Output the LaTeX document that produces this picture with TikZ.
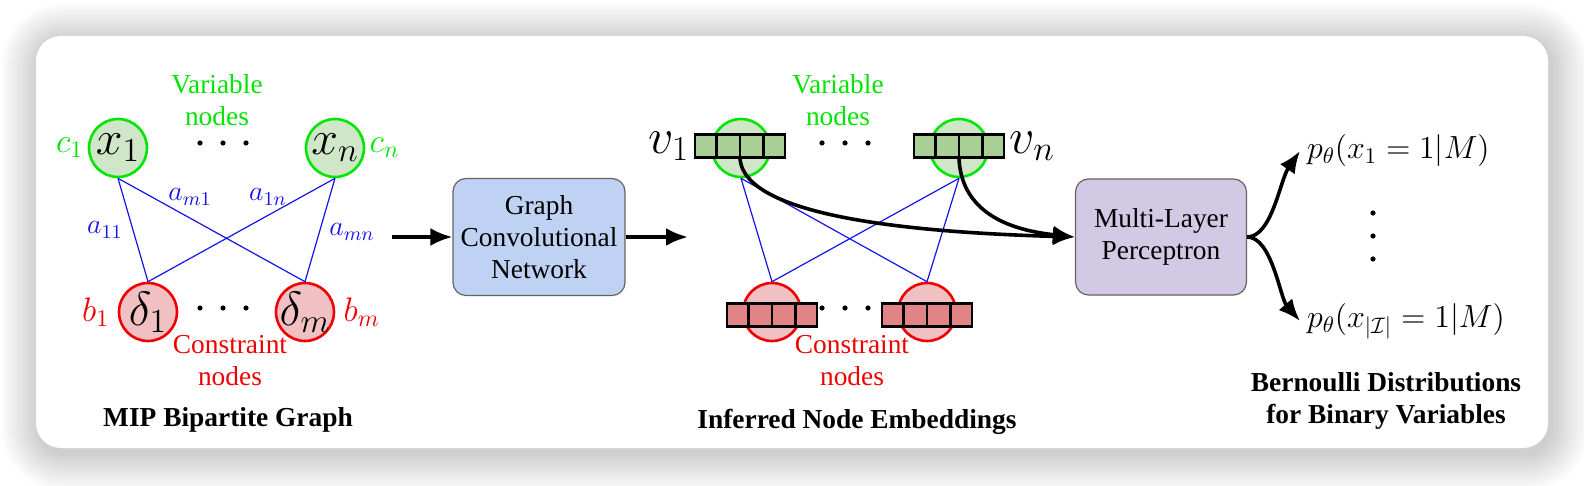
\RequirePackage{fix-cm}
\documentclass[tikz,border=0pt]{standalone}
\usepackage[no-math]{fontspec}
\setmainfont{Liberation Serif}
\usetikzlibrary{arrows.meta,shapes.multipart,positioning}
\definecolor{mygreen}{RGB}{0,230,0}
\definecolor{myred}{RGB}{240,0,0}
\definecolor{myblue}{RGB}{20,20,235}
\definecolor{myvarfill}{RGB}{208,230,201}
\definecolor{myconfill}{RGB}{240,192,194}
\definecolor{myvarcell}{RGB}{169,206,150}
\definecolor{myconcell}{RGB}{224,132,133}
\definecolor{mygcnfill}{RGB}{192,210,243}
\definecolor{mymlpfill}{RGB}{210,201,229}
\definecolor{myborder}{RGB}{100,100,100}

\begin{document}
\begin{tikzpicture}[
  x=0.5pt, y=-0.5pt,
  mytext/.style={font=\fontsize{13.7}{16}\selectfont, align=center},
  mytitle/.style={font=\fontsize{13.7}{16}\selectfont\bfseries, align=center},
  myvar/.style={circle, draw=mygreen, line width=1.3pt, fill=myvarfill, minimum size=29pt, inner sep=0pt},
  mycon/.style={circle, draw=myred, line width=1.3pt, fill=myconfill, minimum size=29pt, inner sep=0pt},
  mybig/.style={font=\fontsize{24}{24}\selectfont, inner sep=0pt},
  mycoef/.style={font=\fontsize{17}{17}\selectfont, inner sep=1pt},
  mylbl/.style={font=\fontsize{14}{14}\selectfont, text=myblue},
  myvec/.style={
    draw,
    line width=1.4pt,
    rectangle split,
    rectangle split horizontal,
    rectangle split parts=4,
    text width=10.2pt,
    inner sep=0pt,
    font=\fontsize{8}{11.2}\selectfont,
    fill=#1
    },
  myedge/.style={draw=myblue, line width=0.6pt},
  mybox/.style={
    draw=myborder,
    line width=0.6pt,
    rounded corners=6.5pt,
    minimum width=86pt,
    minimum height=58.5pt,
    fill=#1,
    mytext
  },
  myarrow/.style={line width=1.8pt, -{Latex[length=11pt,width=9pt]}}
]
\useasboundingbox (0,0) rectangle (1584,486);

% soft shadow and frame
\foreach \s in {1,...,24}
  \fill[black, opacity=0.006, rounded corners={(12.5+0.8*\s)*1pt}]
    (39-1.6*\s,41-1.6*\s) rectangle (1551+1.6*\s,453+1.6*\s);
\fill[white, rounded corners=12.5pt] (36,36) rectangle (1548,448);

% MIP bipartite graph
\node[myvar, label={[mybig]center:$x_1$}] (x1) at (118,148) {};
\node[myvar, label={[mybig]center:$x_n$}] (xn) at (335,148) {};
\node[mycon, label={[mybig]center:$\delta_1$}] (d1) at (148,312) {};
\node[mycon, label={[mybig]center:$\delta_m$}] (dm) at (305,312) {};
\node[mycoef, text=mygreen, left=1pt of x1] (c1) {$c_1$};
\node[mycoef, text=mygreen, right=1pt of xn] (cn) {$c_n$};
\node[mycoef, text=myred, left=3pt of d1] (b1) {$b_1$};
\node[mycoef, text=myred, right=3pt of dm] (bm) {$b_m$};
\draw[myedge] (x1.south) -- (d1.north);
\draw[myedge] (x1.south) -- (dm.north);
\draw[myedge] (xn.south) -- (d1.north);
\draw[myedge] (xn.south) -- (dm.north);
\foreach \Txt/\X/\Y in {a_{11}/105/230, a_{m1}/190/197, a_{1n}/268/197, a_{mn}/352/232}
  \node[mylbl] at (\X,\Y) {$\Txt$};
\foreach \X in {200,223,246} {
  \fill (\X,143) circle (1.3pt);
  \fill (\X,308) circle (1.3pt);
}
\node[mytext, text=mygreen] (varlbl1) at (217,100) {Variable\\nodes};
\node[mytext, text=myred] (conlbl1) at (230,361) {Constraint\\nodes};
\node[mytitle] (mip) at (228,420) {MIP Bipartite Graph};

% GCN
\node[mybox=mygcnfill] (gcn) at (539,237) {Graph\\Convolutional\\Network};
\coordinate (gcnin) at (392,237);
\coordinate (gcnout) at (688,237);
\draw[myarrow] (gcnin) -- (gcn);
\draw[myarrow] (gcn) -- (gcnout);

% inferred node embeddings
\node[myvar] (v1c) at (741,148) {};
\node[myvar] (vnc) at (959,148) {};
\node[mycon] (d1c) at (772,312) {};
\node[mycon] (dmc) at (927,312) {};
\draw[myedge] (v1c.south) -- (d1c.north);
\draw[myedge] (v1c.south) -- (dmc.north);
\draw[myedge] (vnc.south) -- (d1c.north);
\draw[myedge] (vnc.south) -- (dmc.north);
\foreach \Nom/\X/\Y/\Col in {vecv1/740/146/myvarcell, vecvn/959/146/myvarcell, vecd1/772/315/myconcell, vecdm/927/315/myconcell}
  \node[myvec=\Col] (\Nom) at (\X,\Y)
  {
                   \strut
  \nodepart{two}   \strut
  \nodepart{three} \strut
  \nodepart{four}  \strut
  };
\node[font=\fontsize{25}{25}\selectfont, inner sep=0pt, left=2pt of vecv1] (v1) {$v_1$};
\node[font=\fontsize{25}{25}\selectfont, inner sep=0pt, right=2pt of vecvn] (vn) {$v_n$};
\foreach \X in {822,845,868} {
  \fill (\X,143) circle (1.3pt);
  \fill (\X,308) circle (1.3pt);
}
\node[mytext, text=mygreen] (varlbl2) at (838,100) {Variable\\nodes};
\node[mytext, text=myred] (conlbl2) at (852,361) {Constraint\\nodes};
\node[mytitle] (emb) at (857,422) {Inferred Node Embeddings};

% MLP
\node[mybox=mymlpfill, minimum width=85.5pt, minimum height=58pt] (mlp) at (1161,237) {Multi-Layer\\Perceptron};
\draw[myarrow] (vecv1.south) .. controls (743,200) and (830,230) .. (mlp.west);
\draw[myarrow] (vecvn.south) .. controls (961,200) and (990,228) .. (mlp.west);

% Bernoulli outputs
\node[font=\fontsize{16}{16}\selectfont, anchor=west] (p1) at (1300,151) {$p_\theta(x_1=1|M)$};
\node[font=\fontsize{16}{16}\selectfont, anchor=west] (p2) at (1300,321) {$p_\theta(x_{|\mathcal{I}|}=1|M)$};
\draw[myarrow] (mlp.east) .. controls (1272,237) and (1280,180) .. (p1.west);
\draw[myarrow] (mlp.east) .. controls (1272,237) and (1280,298) .. (p2.west);
\foreach \Y in {213,236,259}
  \fill (1373,\Y) circle (1.3pt);
\node[mytitle] (bern) at (1386,401) {Bernoulli Distributions\\for Binary Variables};

\end{tikzpicture}
\end{document}
